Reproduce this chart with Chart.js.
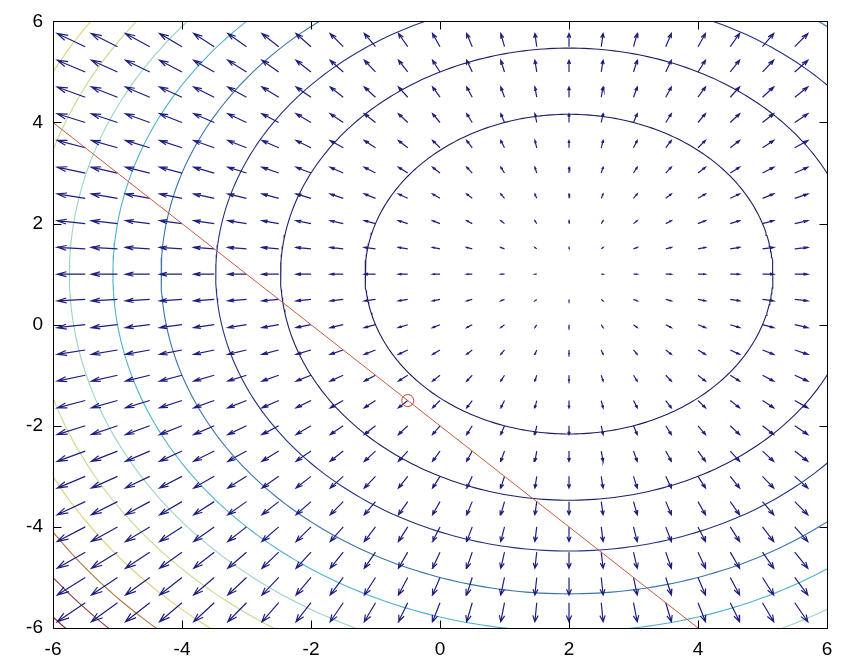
<!DOCTYPE html>
<html>
<head>
<meta charset="utf-8">
<script src="https://cdn.jsdelivr.net/npm/chart.js@4/dist/chart.umd.min.js"></script>
<style>
  html, body { margin: 0; padding: 0; background: #ffffff; }
  #wrap { width: 843px; height: 659px; }
</style>
</head>
<body>
<div id="wrap"><canvas id="plot" width="843" height="659"></canvas></div>
<script>
// Quiver grid (arrow tails) and the gradient components of f = (x-2)^2 + (y-1)^2
const gridX = [-5.5, -5, -4.5, -4, -3.5, -3, -2.5, -2, -1.5, -1, -0.5, 0, 0.5, 1, 1.5, 2, 2.5, 3, 3.5, 4, 4.5, 5, 5.5];
const gridY = [-5.5, -5, -4.5, -4, -3.5, -3, -2.5, -2, -1.5, -1, -0.5, 0, 0.5, 1, 1.5, 2, 2.5, 3, 3.5, 4, 4.5, 5, 5.5];
const gradU = [-15, -14, -13, -12, -11, -10, -9, -8, -7, -6, -5, -4, -3, -2, -1, 0, 1, 2, 3, 4, 5, 6, 7];
const gradV = [-13, -12, -11, -10, -9, -8, -7, -6, -5, -4, -3, -2, -1, 0, 1, 2, 3, 4, 5, 6, 7, 8, 9];

// Contour levels of f and the location of its minimum
const contourLevels = [10, 20, 30, 40, 50, 60, 70, 80, 90, 100, 110];
const minimumX = 2;
const minimumY = 1;

// Constraint line x + y = -2 and the constrained optimum on it
const constraintX = [-6, 4];
const constraintY = [4, -6];
const optimumX = [-0.5];
const optimumY = [-1.5];

// Axis ticks
const tickValues = [-6, -4, -2, 0, 2, 4, 6];

// ---- styling ----
const contourColors = ['#1d1d62', '#1f2168', '#26327c', '#3a74aa', '#4eb2cc', '#9cd4c2',
                       '#c4da8e', '#e0cf78', '#b27440', '#8c3a34', '#7a2626'];
const arrowColor = '#1e1e80';
const arrowScale = 0.029;      // quiver auto-scale factor
const headAlpha = 0.33, headBeta = 0.33;
const labelFont = { family: "'Liberation Sans', Arial, sans-serif", size: 19 };

// Level curve f = c sampled around the minimum
function levelCurve(level) {
  const r = Math.sqrt(level);
  const pts = [];
  const n = 360;
  for (let k = 0; k <= n; k++) {
    const t = (k / n) * 2 * Math.PI;
    pts.push({ x: minimumX + r * Math.cos(t), y: minimumY + r * Math.sin(t) });
  }
  return pts;
}

// Arrow shafts and heads, segments separated by gaps
function quiverSegments() {
  const pts = [];
  for (let j = 0; j < gridY.length; j++) {
    for (let i = 0; i < gridX.length; i++) {
      const x0 = gridX[i], y0 = gridY[j];
      const U = arrowScale * gradU[i], V = arrowScale * gradV[j];
      const tx = x0 + U, ty = y0 + V;
      pts.push({ x: x0, y: y0 }, { x: tx, y: ty }, { x: tx, y: null });
      pts.push({ x: tx - headAlpha * (U + headBeta * V), y: ty - headAlpha * (V - headBeta * U) });
      pts.push({ x: tx, y: ty });
      pts.push({ x: tx - headAlpha * (U - headBeta * V), y: ty - headAlpha * (V + headBeta * U) });
      pts.push({ x: tx, y: null });
    }
  }
  return pts;
}

const datasets = [];
datasets.push({
  label: 'optimum',
  data: optimumX.map((x, i) => ({ x, y: optimumY[i] })),
  showLine: false,
  pointStyle: 'circle',
  pointRadius: 6,
  pointBorderColor: '#d2403c',
  pointBackgroundColor: 'rgba(0,0,0,0)',
  pointBorderWidth: 1,
  order: 0
});
datasets.push({
  label: 'constraint',
  data: constraintX.map((x, i) => ({ x, y: constraintY[i] })),
  showLine: true,
  borderColor: '#c95a40',
  borderWidth: 1,
  pointRadius: 0,
  order: 1
});
datasets.push({
  label: 'gradient',
  data: quiverSegments(),
  showLine: true,
  spanGaps: false,
  borderColor: arrowColor,
  borderWidth: 1.2,
  pointRadius: 0,
  order: 2
});
contourLevels.forEach((lv, k) => {
  datasets.push({
    label: 'f = ' + lv,
    data: levelCurve(lv),
    showLine: true,
    borderColor: contourColors[k],
    borderWidth: 1.1,
    pointRadius: 0,
    order: 3
  });
});

// Box frame with inward tick marks on all four sides
const framePlugin = {
  id: 'frame',
  afterDatasetsDraw(chart) {
    const { ctx, chartArea: a, scales } = chart;
    const L = Math.round(a.left) + 0.5, R = Math.round(a.right) + 0.5;
    const T = Math.round(a.top) + 0.5, B = Math.round(a.bottom) + 0.5;
    const len = 8;
    ctx.save();
    ctx.strokeStyle = '#000000';
    ctx.lineWidth = 1;
    ctx.beginPath();
    ctx.rect(L, T, R - L, B - T);
    tickValues.forEach(v => {
      const px = Math.round(scales.x.getPixelForValue(v)) + 0.5;
      ctx.moveTo(px, B); ctx.lineTo(px, B - len);
      ctx.moveTo(px, T); ctx.lineTo(px, T + len);
      const py = Math.round(scales.y.getPixelForValue(v)) + 0.5;
      ctx.moveTo(L, py); ctx.lineTo(L + len, py);
      ctx.moveTo(R, py); ctx.lineTo(R - len, py);
    });
    ctx.stroke();
    ctx.restore();
  }
};

new Chart(document.getElementById('plot'), {
  type: 'scatter',
  data: { datasets },
  options: {
    responsive: false,
    animation: false,
    events: [],
    layout: { padding: { left: 0, right: 16, top: 16, bottom: 0 } },
    plugins: { legend: { display: false }, tooltip: { enabled: false } },
    scales: {
      x: {
        type: 'linear', min: -6, max: 6,
        afterBuildTicks(scale) { scale.ticks = tickValues.map(v => ({ value: v })); },
        afterFit(scale) { scale.height = 31; },
        grid: { display: false, drawTicks: false },
        border: { display: false },
        ticks: { color: '#000000', font: labelFont, padding: 10, maxRotation: 0, autoSkip: false }
      },
      y: {
        type: 'linear', min: -6, max: 6,
        afterBuildTicks(scale) { scale.ticks = tickValues.map(v => ({ value: v })); },
        afterFit(scale) { scale.width = 53; },
        grid: { display: false, drawTicks: false },
        border: { display: false },
        ticks: { color: '#000000', font: labelFont, padding: 10, autoSkip: false }
      }
    }
  },
  plugins: [framePlugin]
});
</script>
</body>
</html>
